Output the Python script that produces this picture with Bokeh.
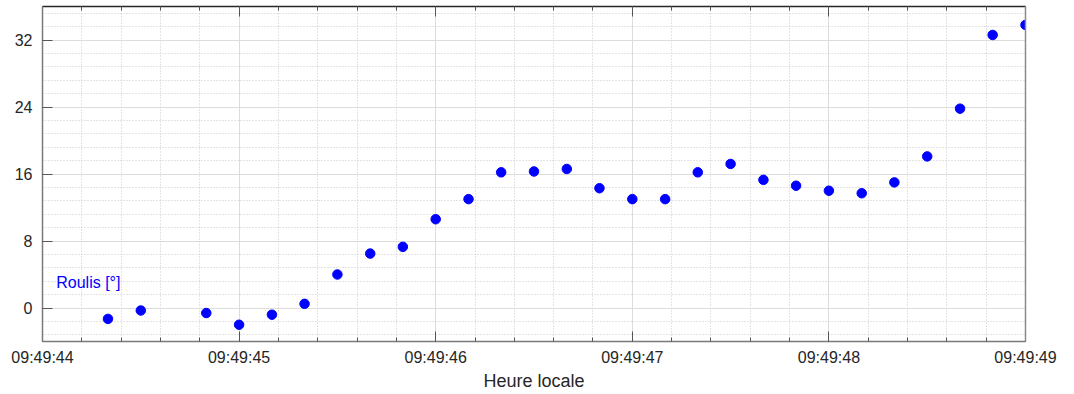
import numpy as np
from bokeh.plotting import figure
from bokeh.models import Range1d, FixedTicker, LinearAxis, Label
from bokeh.embed import file_html
from bokeh.resources import INLINE

# ---- data ----
times = ["09:49:44.333", "09:49:44.500", "09:49:44.833", "09:49:45.000",
         "09:49:45.167", "09:49:45.333", "09:49:45.500", "09:49:45.667",
         "09:49:45.833", "09:49:46.000", "09:49:46.167", "09:49:46.333",
         "09:49:46.500", "09:49:46.667", "09:49:46.833", "09:49:47.000",
         "09:49:47.167", "09:49:47.333", "09:49:47.500", "09:49:47.667",
         "09:49:47.833", "09:49:48.000", "09:49:48.167", "09:49:48.333",
         "09:49:48.500", "09:49:48.667", "09:49:48.833", "09:49:49.000"]
roulis = [-1.3, -0.3, -0.6, -2.0, -0.8, 0.5, 4.0, 6.5, 7.3, 10.6, 13.0, 16.2,
          16.3, 16.6, 14.3, 13.0, 13.0, 16.2, 17.2, 15.3, 14.6, 14.0, 13.7,
          15.0, 18.1, 23.8, 32.6, 33.8]
x_tick_labels = ["09:49:44", "09:49:45", "09:49:46", "09:49:47", "09:49:48", "09:49:49"]
y_ticks = [0, 8, 16, 24, 32]
series_label = "Roulis [°]"
x_label = "Heure locale"


def to_sec(s):
    h, m, sec = s.split(":")
    return int(h) * 3600 + int(m) * 60 + float(sec)


xs = [to_sec(t) for t in times]
x_ticks = [to_sec(t) for t in x_tick_labels]
x_minor = list(np.arange(x_ticks[0], x_ticks[-1] + 1e-6, 0.2))
y_minor = list(np.arange(-3.2, 36.0, 1.6))

FONT = "Liberation Sans"
TXT = "#262626"

p = figure(width=1074, height=394, output_backend="svg", toolbar_location=None,
           x_range=Range1d(x_ticks[0], x_ticks[-1]), y_range=Range1d(-4, 36),
           min_border_left=42, min_border_right=49, min_border_top=6,
           min_border_bottom=53)
p.outline_line_color = None
p.background_fill_color = "white"

xt = FixedTicker(ticks=x_ticks, minor_ticks=x_minor)
yt = FixedTicker(ticks=y_ticks, minor_ticks=y_minor)

p.xaxis.ticker = xt
p.yaxis.ticker = yt
p.xaxis.major_label_overrides = {t: l for t, l in zip(x_ticks, x_tick_labels)}

for ax in (p.xaxis[0], p.yaxis[0]):
    ax.major_label_text_font = FONT
    ax.major_label_text_font_size = "16px"
    ax.major_label_text_color = TXT
    ax.major_tick_in = 10
    ax.major_tick_out = 0
    ax.major_tick_line_color = "#555555"
    ax.axis_line_color = "#7a7a7a"
    ax.axis_line_width = 1.5

p.xaxis.minor_tick_in = 4
p.xaxis.minor_tick_out = 0
p.xaxis.minor_tick_line_color = "#555555"
p.yaxis.minor_tick_line_color = None
p.xaxis.major_label_standoff = 7
p.yaxis.major_label_standoff = 6
p.xaxis.axis_label = x_label
p.xaxis.axis_label_text_font = FONT
p.xaxis.axis_label_text_font_size = "18px"
p.xaxis.axis_label_text_font_style = "normal"
p.xaxis.axis_label_text_color = TXT
p.xaxis.axis_label_standoff = 2

# top axis (ticks only) and right border
top = LinearAxis(ticker=xt, major_label_text_font_size="1px", major_label_text_color=None,
                 major_label_standoff=0,
                 major_tick_in=10, major_tick_out=0, minor_tick_in=4, minor_tick_out=0,
                 major_tick_line_color="#555555", minor_tick_line_color="#555555",
                 axis_line_color="#262626", axis_line_width=1.5)
p.add_layout(top, "above")
right = LinearAxis(ticker=yt, major_label_text_font_size="1px", major_label_text_color=None,
                   major_label_standoff=0,
                   major_tick_line_color=None, minor_tick_line_color=None,
                   axis_line_color="#8a8a8a", axis_line_width=1.5)
p.add_layout(right, "right")

# grids
for g in (p.xgrid[0], p.ygrid[0]):
    g.grid_line_color = "#dcdcdc"
    g.grid_line_width = 1
    g.minor_grid_line_color = "#c8c8c8"
    g.minor_grid_line_dash = "1 2"
    g.minor_grid_line_width = 1

p.scatter(xs, roulis, size=9.5, marker="circle", color="#0000ff", line_color="#0000ff")

p.add_layout(Label(x=x_ticks[0] + 0.07, y=3.0, text=series_label, text_color="#0000ff",
                   text_font=FONT, text_font_size="16px", text_baseline="middle"))

open("out.html", "w").write(file_html(p, INLINE))
